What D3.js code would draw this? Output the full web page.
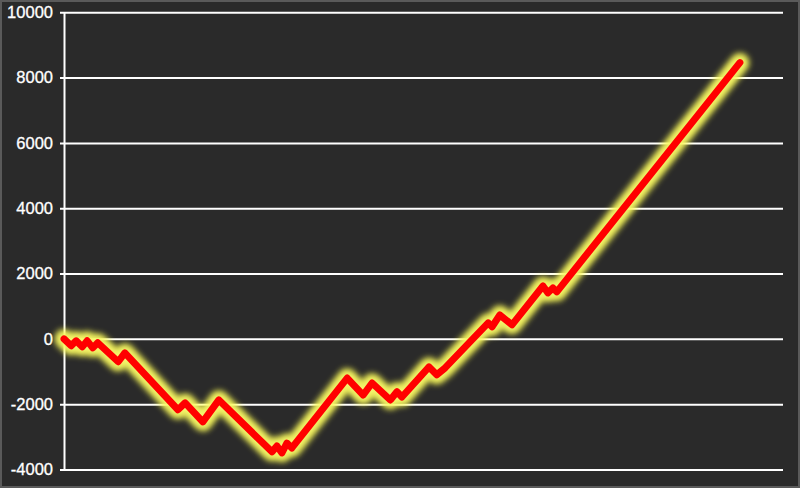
<!DOCTYPE html>
<html>
<head>
<meta charset="utf-8">
<script src="https://cdn.jsdelivr.net/npm/d3@7"></script>
<style>
  html, body { margin: 0; padding: 0; background: #2a2a2a; }
  svg { display: block; }
</style>
</head>
<body>
<svg id="chart" width="800" height="488"></svg>
<script>
// Data
const trades = [0, 1.3, 2.2, 3.3, 4.2, 5.2, 6.1, 9.8, 11.0, 20.6, 21.9, 25.1, 28.0, 37.6, 38.5, 39.4, 40.3, 41.2, 51.2, 54.1, 55.7, 59.0, 60.2, 61.1, 66.0, 67.4, 68.9, 76.7, 77.4, 78.8, 81.0, 86.6, 87.5, 88.4, 89.1, 122.2];
const equity = [0, -210, -60, -245, -60, -275, -120, -700, -430, -2170, -1960, -2540, -1870, -3460, -3280, -3490, -3190, -3340, -1200, -1720, -1350, -1870, -1620, -1780, -860, -1100, -890, 490, 370, 730, 430, 1620, 1410, 1560, 1440, 8460];
const yTicks = [-4000, -2000, 0, 2000, 4000, 6000, 8000, 10000];
const tradeDomain = [0, 130];

const W = 800, H = 488;
const svg = d3.select("#chart");

// frame
svg.append("rect").attr("x", 0).attr("y", 0).attr("width", W).attr("height", H)
  .attr("fill", "#2a2a2a");
svg.append("rect").attr("x", 1).attr("y", 1).attr("width", W - 2).attr("height", H - 2)
  .attr("fill", "none").attr("stroke", "#5a5a5a").attr("stroke-width", 2);

const x = d3.scaleLinear().domain(tradeDomain).range([64, 783]);
const y = d3.scaleLinear().domain([-4000, 10000]).range([469.5, 12.3]);

// gridlines via axis
const grid = svg.append("g").attr("transform", "translate(64,0)")
  .call(d3.axisLeft(y).tickValues(yTicks).tickSize(-(783 - 64)).tickFormat(""));
grid.select(".domain").remove();
grid.selectAll(".tick line").attr("stroke", "#ffffff").attr("stroke-width", 2).attr("x1", -4);

// y axis with labels
const yAxis = svg.append("g").attr("transform", "translate(64,0)")
  .call(d3.axisLeft(y).tickValues(yTicks).tickSize(0).tickPadding(11).tickFormat(d => String(d)));
yAxis.select(".domain").attr("stroke", "#ffffff").attr("stroke-width", 2);
yAxis.selectAll(".tick text").attr("fill", "#ffffff")
  .attr("font-family", "'Liberation Sans', Arial, sans-serif").attr("font-size", 16.5)
  .attr("stroke", "#ffffff").attr("stroke-width", 0.3);

// glow filter
const defs = svg.append("defs");
const f = defs.append("filter").attr("id", "glow")
  .attr("x", "-10%").attr("y", "-10%").attr("width", "120%").attr("height", "120%");
f.append("feGaussianBlur").attr("stdDeviation", 3);

const pts = trades.map((t, i) => [t, equity[i]]);
const line = d3.line().x(d => x(d[0])).y(d => y(d[1]));

svg.append("path").attr("d", line(pts))
  .attr("fill", "none").attr("stroke", "#ffff50").attr("stroke-width", 19)
  .attr("stroke-linejoin", "round").attr("stroke-linecap", "round")
  .attr("filter", "url(#glow)").attr("opacity", 0.85);
svg.append("path").attr("d", line(pts))
  .attr("fill", "none").attr("stroke", "#f6f670").attr("stroke-width", 12)
  .attr("stroke-linejoin", "round").attr("stroke-linecap", "round")
  .attr("filter", "url(#glow)");
svg.append("path").attr("d", line(pts))
  .attr("fill", "none").attr("stroke", "#ff0000").attr("stroke-width", 7)
  .attr("stroke-linejoin", "round").attr("stroke-linecap", "round");
</script>
</body>
</html>
